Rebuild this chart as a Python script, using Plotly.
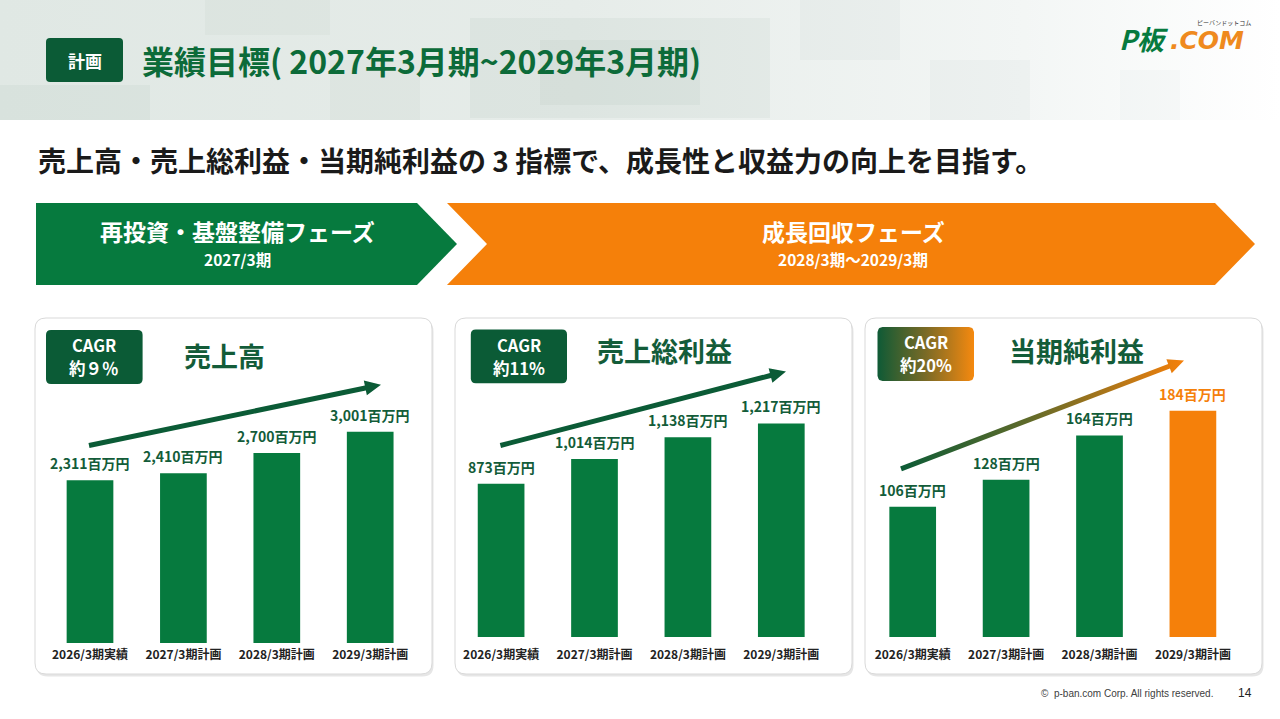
import numpy as np
import plotly.graph_objects as go

W, H = 1280, 719

# ---------------- data ----------------
categories = ["2026/3期実績", "2027/3期計画", "2028/3期計画", "2029/3期計画"]
sales = [2311, 2410, 2700, 3001]
gross_profit = [873, 1014, 1138, 1217]
net_income = [106, 128, 164, 184]
panel_titles = ["売上高", "売上総利益", "当期純利益"]
cagr_labels = ["約９％", "約11%", "約20%"]
unit = "百万円"

GREEN = "#067a3e"
DARK = "#0b5b36"
TXTGREEN = "#135c39"
ORANGE = "#f5800a"
FONT = "Noto Sans CJK JP"


def X(x):
    return x / W


def Y(y):
    return 1 - y / H


def rrect_path(x0, y0, x1, y1, r):
    return (f"M {X(x0+r)},{Y(y0)} L {X(x1-r)},{Y(y0)} Q {X(x1)},{Y(y0)} {X(x1)},{Y(y0+r)} "
            f"L {X(x1)},{Y(y1-r)} Q {X(x1)},{Y(y1)} {X(x1-r)},{Y(y1)} "
            f"L {X(x0+r)},{Y(y1)} Q {X(x0)},{Y(y1)} {X(x0)},{Y(y1-r)} "
            f"L {X(x0)},{Y(y0+r)} Q {X(x0)},{Y(y0)} {X(x0+r)},{Y(y0)} Z")


def poly_path(pts):
    s = "M " + " L ".join(f"{X(a)},{Y(b)}" for a, b in pts) + " Z"
    return s


def rrect_pts(x0, y0, x1, y1, r, n=8):
    xs, ys = [], []
    corners = [(x1 - r, y0 + r, -90, 0), (x1 - r, y1 - r, 0, 90),
               (x0 + r, y1 - r, 90, 180), (x0 + r, y0 + r, 180, 270)]
    for cx, cy, a0, a1 in corners:
        for a in np.linspace(np.radians(a0), np.radians(a1), n):
            xs.append(cx + r * np.cos(a))
            ys.append(cy + r * np.sin(a))
    xs.append(xs[0]); ys.append(ys[0])
    return xs, ys


def arrow_pts(x0, y0, x1, y1, shaft=5.0, head_len=16.0, head_w=15.0):
    d = np.array([x1 - x0, y1 - y0], float)
    L = np.hypot(*d)
    u = d / L
    nrm = np.array([-u[1], u[0]])
    p0 = np.array([x0, y0], float)
    tip = np.array([x1, y1], float)
    base = tip - u * head_len
    pts = [p0 + nrm * shaft / 2, base + nrm * shaft / 2, base + nrm * head_w / 2, tip,
           base - nrm * head_w / 2, base - nrm * shaft / 2, p0 - nrm * shaft / 2, p0 + nrm * shaft / 2]
    return [p[0] for p in pts], [p[1] for p in pts]


fig = go.Figure()

# ---------------- overlay canvas (x/y) ----------------
# header background
fig.add_trace(go.Scatter(x=[0, W, W, 0, 0], y=[0, 0, 120, 120, 0], mode="lines", fill="toself",
                         line=dict(width=0), hoverinfo="skip", showlegend=False,
                         fillgradient=dict(type="horizontal",
                                           colorscale=[[0, "#e0e8e4"], [0.45, "#e6ece9"], [0.8, "#f3f6f5"], [1, "#ffffff"]])))
texture = [(0, 85, 150, 120, 0.06), (205, 0, 330, 35, 0.05), (470, 18, 770, 118, 0.07),
           (540, 40, 700, 105, 0.06), (800, 0, 900, 60, 0.04), (930, 60, 1030, 120, 0.04),
           (330, 60, 420, 120, 0.05), (1120, 70, 1180, 120, 0.03)]
for x0, y0, x1, y1, a in texture:
    fig.add_trace(go.Scatter(x=[x0, x1, x1, x0, x0], y=[y0, y0, y1, y1, y0], mode="lines", fill="toself",
                             line=dict(width=0), fillcolor=f"rgba(110,140,125,{a})",
                             hoverinfo="skip", showlegend=False))

# gradient CAGR badge (panel 3)
bx, by = rrect_pts(877.5, 327, 974, 381, 5)
fig.add_trace(go.Scatter(x=bx, y=by, mode="lines", fill="toself", line=dict(width=0),
                         hoverinfo="skip", showlegend=False,
                         fillgradient=dict(type="horizontal",
                                           colorscale=[[0, "#0e5a36"], [0.5, "#7a6a26"], [1, "#f5890f"]])))

# trend arrows
arrows = [((89, 445.5, 381, 384.7), None), ((500.4, 445.5, 786, 371.5), None),
          ((901, 468.8, 1184, 360.5), "grad")]
for (x0, y0, x1, y1), kind in arrows:
    ax_, ay_ = arrow_pts(x0, y0, x1, y1)
    if kind is None:
        fig.add_trace(go.Scatter(x=ax_, y=ay_, mode="lines", fill="toself", line=dict(width=0),
                                 fillcolor=DARK, hoverinfo="skip", showlegend=False))
    else:
        fig.add_trace(go.Scatter(x=ax_, y=ay_, mode="lines", fill="toself", line=dict(width=0),
                                 hoverinfo="skip", showlegend=False,
                                 fillgradient=dict(type="horizontal",
                                                   colorscale=[[0, "#0b5b36"], [0.45, "#5f6a2a"], [1, ORANGE]])))

# ---------------- bar charts ----------------
series = [sales, gross_profit, net_income]
px_per_unit = [0.0704, 0.1755, 1.229]
baselines = [643, 637, 637]
x_starts = [43.3, 454.4, 866.0]
step = 93.4
top_px = 330
standoffs = [3, 9, 9]

annotations = []
for i, vals in enumerate(series):
    xa = f"x{i+2}"
    ya = f"y{i+2}"
    colors = [GREEN] * len(vals)
    if i == 2:
        colors[-1] = ORANGE
    fig.add_trace(go.Bar(x=categories, y=vals, marker=dict(color=colors, line=dict(width=0)),
                         xaxis=xa, yaxis=ya, hoverinfo="skip", showlegend=False))
    ymax = (baselines[i] - top_px) / px_per_unit[i]
    fig.update_layout(**{
        f"xaxis{i+2}": dict(domain=[X(x_starts[i]), X(x_starts[i] + 4 * step)], anchor=ya,
                            type="category", showgrid=False, zeroline=False, showline=False,
                            ticks="", ticklabelstandoff=standoffs[i],
                            tickfont=dict(family=FONT, size=12, color="#222222", weight="bold"),
                            fixedrange=True),
        f"yaxis{i+2}": dict(domain=[Y(baselines[i]), Y(top_px)], anchor=xa, range=[0, ymax],
                            visible=False, fixedrange=True),
    })
    for j, (c, v) in enumerate(zip(categories, vals)):
        col = ORANGE if (i == 2 and j == len(vals) - 1) else TXTGREEN
        annotations.append(dict(x=c, y=v, xref=xa, yref=ya, text=f"<b>{v:,}{unit}</b>",
                                showarrow=False, yanchor="bottom", yshift=5,
                                font=dict(family=FONT, size=14, color=col)))

fig.update_layout(barmode="group", bargap=0.5)

# ---------------- shapes ----------------
shapes = []
# panels
panels = [(35, 318, 432, 674), (455, 318, 852, 674), (865, 318, 1262, 674)]
for x0, y0, x1, y1 in panels:
    shapes.append(dict(type="path", path=rrect_path(x0 + 1.5, y0 + 2.5, x1 + 1.5, y1 + 2.5, 11),
                       xref="paper", yref="paper", fillcolor="#e6e6e6", line=dict(width=0), layer="below"))
    shapes.append(dict(type="path", path=rrect_path(x0, y0, x1, y1, 11),
                       xref="paper", yref="paper", fillcolor="#ffffff", line=dict(color="#d9d9d9", width=1),
                       layer="below"))
# chevrons
shapes.append(dict(type="path", path=poly_path([(36, 203), (417, 203), (457, 244), (417, 285), (36, 285)]),
                   xref="paper", yref="paper", fillcolor=GREEN, line=dict(width=0), layer="below"))
shapes.append(dict(type="path",
                   path=poly_path([(447, 203), (1215, 203), (1255, 244), (1215, 285), (447, 285), (487, 244)]),
                   xref="paper", yref="paper", fillcolor=ORANGE, line=dict(width=0), layer="below"))
# title badge
shapes.append(dict(type="path", path=rrect_path(46, 38, 123, 82, 4), xref="paper", yref="paper",
                   fillcolor=DARK, line=dict(width=0), layer="above"))
# CAGR badges 1 & 2
for x0, y0, x1, y1 in [(46, 330, 142.6, 384), (470.8, 329.5, 567, 383.3)]:
    shapes.append(dict(type="path", path=rrect_path(x0, y0, x1, y1, 5), xref="paper", yref="paper",
                       fillcolor=DARK, line=dict(width=0), layer="above"))


def txt(x, y, text, size, color, xanchor="center", family=FONT, **kw):
    annotations.append(dict(x=X(x), y=Y(y), xref="paper", yref="paper", text=text, showarrow=False,
                            xanchor=xanchor, yanchor="middle",
                            font=dict(family=family, size=size, color=color), **kw))


# header
txt(84.5, 60, "<b>計画</b>", 17, "#ffffff")
txt(140, 60, "<b>業績目標( 2027年3月期~2029年3月期)</b>", 32, "#0c6b39", xanchor="left")
# logo
txt(1117, 39, "<b><i>P板</i></b>", 27, GREEN, xanchor="left")
txt(1168, 41, "<b><i>.COM</i></b>", 25, "#ef8a1e", xanchor="left", family="DejaVu Sans")
txt(1224, 22, "ピーバンドットコム", 6, "#333333")
# subtitle
txt(36, 160, "<b>売上高・売上総利益・当期純利益の 3 指標で、成長性と収益力の向上を目指す。</b>", 28, "#1a1a1a",
    xanchor="left")
# chevron texts
txt(237, 231, "<b>再投資・基盤整備フェーズ</b>", 23, "#ffffff")
txt(237, 259, "<b>2027/3期</b>", 15.5, "#ffffff")
txt(853, 231, "<b>成長回収フェーズ</b>", 23, "#ffffff")
txt(853, 259, "<b>2028/3期～2029/3期</b>", 15.5, "#ffffff")
# panel titles
title_pos = [(224, 356), (664, 350), (1076, 350)]
for (tx, ty), t in zip(title_pos, panel_titles):
    txt(tx, ty, f"<b>{t}</b>", 27, TXTGREEN)
# CAGR badge texts
badge_centers = [94.3, 519, 925.7]
badge_tops = [345, 344.5, 342]
for bxc, bty, lab in zip(badge_centers, badge_tops, cagr_labels):
    txt(bxc, bty, "<b>CAGR</b>", 16.5, "#ffffff")
    txt(bxc, bty + 23, f"<b>{lab}</b>", 16.5, "#ffffff")
# footer
txt(1215, 693, "©  p-ban.com Corp. All rights reserved.", 10, "#404040", xanchor="right",
    family="Liberation Sans")
txt(1245, 693, "14", 12, "#222222", family="Liberation Sans")

fig.update_layout(
    width=W, height=H, margin=dict(l=0, r=0, t=0, b=0),
    paper_bgcolor="#ffffff", plot_bgcolor="rgba(0,0,0,0)",
    xaxis=dict(domain=[0, 1], range=[0, W], visible=False, fixedrange=True),
    yaxis=dict(domain=[0, 1], range=[H, 0], visible=False, fixedrange=True),
    shapes=shapes, annotations=annotations, showlegend=False,
    font=dict(family=FONT),
)

fig.write_html("out.html", config={"displayModeBar": False},
               post_script="document.body.style.margin='0';document.body.style.overflow='hidden';")
